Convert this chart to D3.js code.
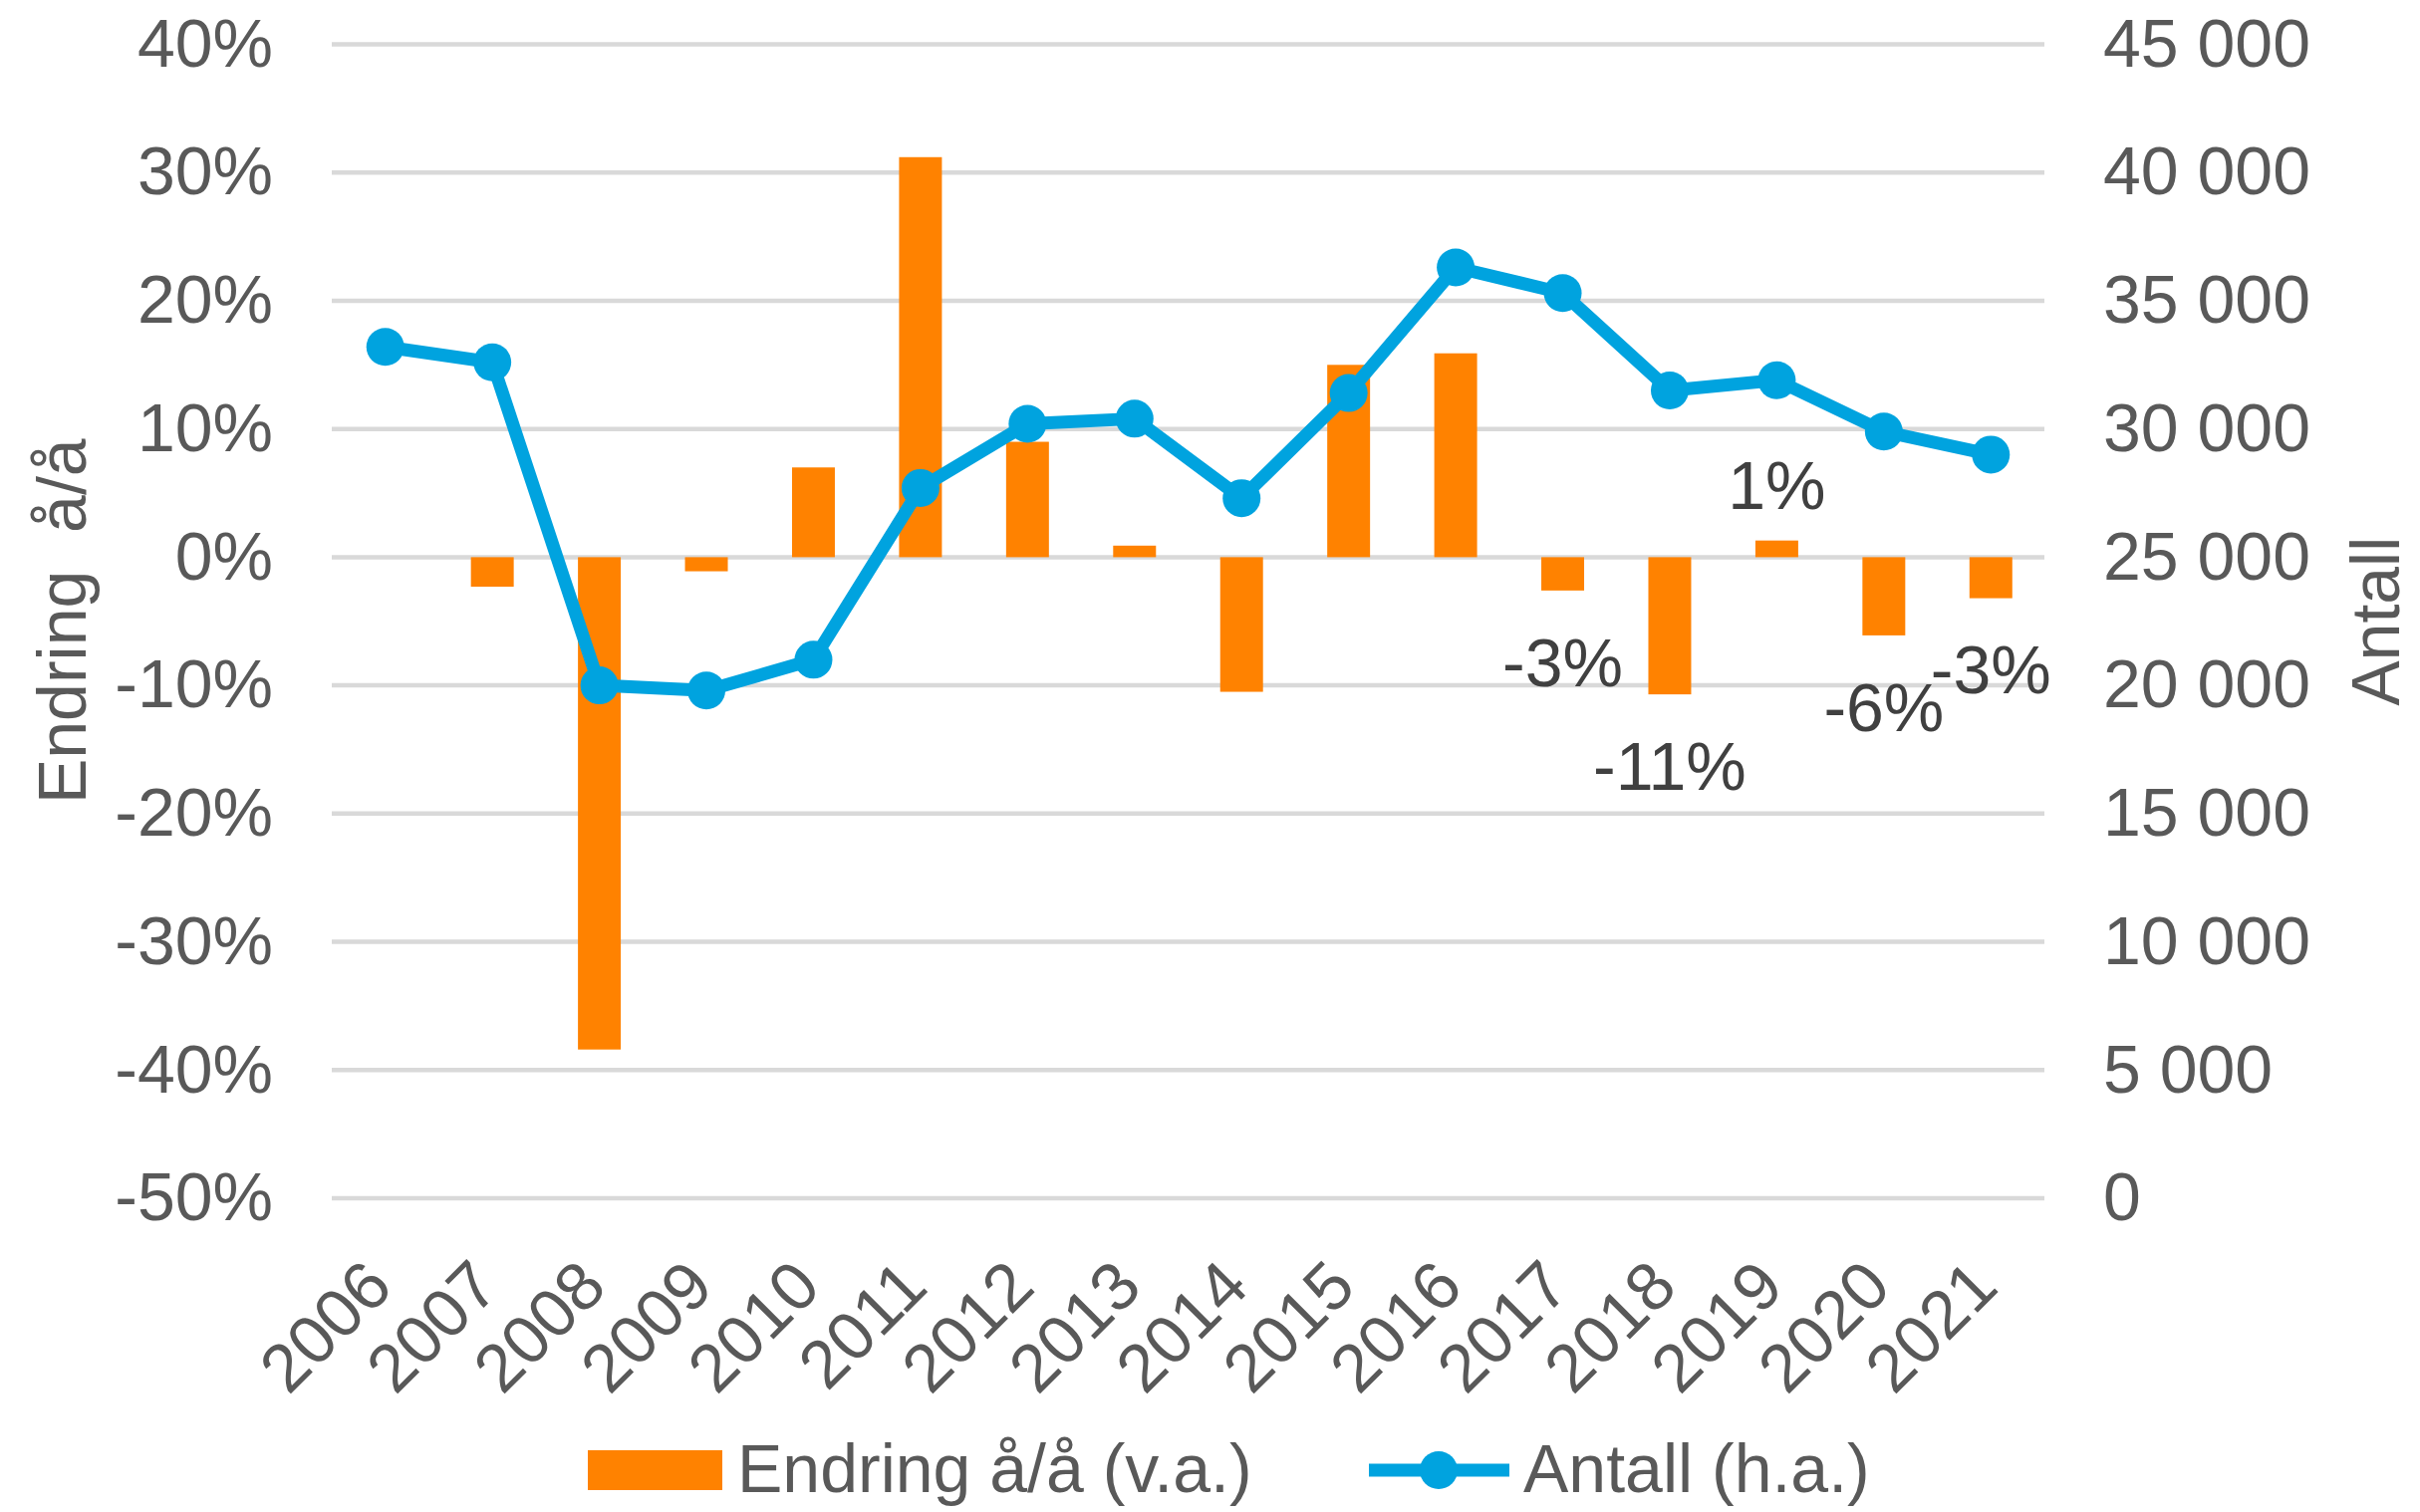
<!DOCTYPE html>
<html>
<head>
<meta charset="utf-8">
<script src="https://cdn.jsdelivr.net/npm/d3@7"></script>
<style>
  html, body { margin: 0; padding: 0; background: #fff; }
  svg { display: block; font-family: "Liberation Sans", Arial, sans-serif; }
</style>
</head>
<body>
<div id="chart"></div>
<script>
/* ── Data ─────────────────────────────────────────────────────────── */

const years = ['2006', '2007', '2008', '2009', '2010', '2011', '2012', '2013',
  '2014', '2015', '2016', '2017', '2018', '2019', '2020', '2021'];

// Endring å/å (v.a.), share
const endring = [null, -0.023, -0.384, -0.011, 0.070, 0.312, 0.090, 0.009,
  -0.105, 0.150, 0.159, -0.026, -0.107, 0.013, -0.061, -0.032];

// Antall (h.a.)
const antall = [33200, 32600, 20000, 19800, 21000, 27700, 30200, 30400,
  27300, 31400, 36300, 35300, 31500, 31900, 29900, 29000];

const labelYears = ['2017', '2018', '2019', '2020', '2021'];

const leftTicks = [-0.5, -0.4, -0.3, -0.2, -0.1, 0, 0.1, 0.2, 0.3, 0.4];
const rightTicks = [0, 5000, 10000, 15000, 20000, 25000, 30000, 35000, 40000, 45000];

/* ── Setup ────────────────────────────────────────────────────────── */

const W = 2429, H = 1518;
const plot = { left: 333, right: 2052, top: 44.5, bottom: 1203 };

const COLORS = {
  bar: '#FF8200',
  line: '#00A3DF',
  grid: '#D9D9D9',
  axisText: '#595959',
  label: '#404040'
};

const locale = d3.formatLocale({
  decimal: ',', thousands: '\u00a0', grouping: [3], currency: ['', ' kr'], minus: '-'
});
const pct = locale.format('.0%');
const num = locale.format(',.0f');

const svg = d3.select('#chart').append('svg')
  .attr('width', W).attr('height', H)
  .attr('viewBox', '0 0 ' + W + ' ' + H);

const x = d3.scaleBand().domain(years).range([plot.left, plot.right]).padding(0);
const yL = d3.scaleLinear().domain([-0.5, 0.4]).range([plot.bottom, plot.top]);
const yR = d3.scaleLinear().domain([0, 45000]).range([plot.bottom, plot.top]);

const fontSize = 68;

/* ── Gridlines ────────────────────────────────────────────────────── */

svg.append('g').selectAll('line')
  .data(leftTicks)
  .join('line')
  .attr('x1', plot.left).attr('x2', plot.right)
  .attr('y1', d => yL(d)).attr('y2', d => yL(d))
  .attr('stroke', COLORS.grid).attr('stroke-width', 4.5);

/* ── Axes ─────────────────────────────────────────────────────────── */

const gLeft = svg.append('g')
  .attr('transform', 'translate(' + (plot.left - 59) + ',0)')
  .call(d3.axisLeft(yL).tickValues(leftTicks).tickFormat(pct).tickSize(0).tickPadding(0));

const gRight = svg.append('g')
  .attr('transform', 'translate(' + (plot.right + 59) + ',0)')
  .call(d3.axisRight(yR).tickValues(rightTicks).tickFormat(num).tickSize(0).tickPadding(0));

const gBottom = svg.append('g')
  .attr('transform', 'translate(0,' + (plot.bottom + 58) + ')')
  .call(d3.axisBottom(x).tickSize(0).tickPadding(0));

[gLeft, gRight, gBottom].forEach(g => {
  g.select('.domain').remove();
  g.selectAll('text')
    .attr('fill', COLORS.axisText)
    .style('font-size', fontSize + 'px')
    .style('font-family', '"Liberation Sans", Arial, sans-serif');
});

// rotated year labels, top-right end sits near the category centre
gBottom.selectAll('text')
  .attr('text-anchor', 'end')
  .attr('dy', '0.7em')
  .attr('transform', 'translate(-24,0) rotate(-45)');

/* ── Bars ─────────────────────────────────────────────────────────── */

const barW = x.bandwidth() * 0.4;
const barData = years.map((yr, i) => ({ year: yr, v: endring[i] })).filter(d => d.v !== null);

svg.append('g').selectAll('rect')
  .data(barData)
  .join('rect')
  .attr('x', d => x(d.year) + (x.bandwidth() - barW) / 2)
  .attr('width', barW)
  .attr('y', d => Math.min(yL(d.v), yL(0)))
  .attr('height', d => Math.abs(yL(d.v) - yL(0)))
  .attr('fill', COLORS.bar);

/* ── Line ─────────────────────────────────────────────────────────── */

const lineData = years.map((yr, i) => ({ year: yr, v: antall[i] }));
const cx = d => x(d.year) + x.bandwidth() / 2;

svg.append('path')
  .datum(lineData)
  .attr('fill', 'none')
  .attr('stroke', COLORS.line)
  .attr('stroke-width', 13)
  .attr('stroke-linejoin', 'round')
  .attr('d', d3.line().x(cx).y(d => yR(d.v)));

svg.append('g').selectAll('circle')
  .data(lineData)
  .join('circle')
  .attr('cx', cx)
  .attr('cy', d => yR(d.v))
  .attr('r', 19)
  .attr('fill', COLORS.line);

/* ── Data labels ──────────────────────────────────────────────────── */

svg.append('g').selectAll('text')
  .data(barData.filter(d => labelYears.includes(d.year)))
  .join('text')
  .attr('x', d => x(d.year) + x.bandwidth() / 2)
  .attr('y', d => d.v < 0 ? yL(d.v) + 72 : yL(d.v) - 55)
  .attr('dy', '0.35em')
  .attr('text-anchor', 'middle')
  .attr('fill', COLORS.label)
  .style('font-size', fontSize + 'px')
  .text(d => pct(d.v));

/* ── Axis titles ──────────────────────────────────────────────────── */

const midY = (plot.top + plot.bottom) / 2;

svg.append('text')
  .attr('transform', 'translate(62,' + midY + ') rotate(-90)')
  .attr('text-anchor', 'middle')
  .attr('dy', '0.35em')
  .attr('fill', COLORS.axisText)
  .style('font-size', fontSize + 'px')
  .style('white-space', 'pre')
  .text('Endring  å/å');

svg.append('text')
  .attr('transform', 'translate(2384,' + midY + ') rotate(-90)')
  .attr('text-anchor', 'middle')
  .attr('dy', '0.35em')
  .attr('fill', COLORS.axisText)
  .style('font-size', fontSize + 'px')
  .text('Antall');

/* ── Legend ───────────────────────────────────────────────────────── */

const legY = 1474;
const leg = svg.append('g');

leg.append('rect')
  .attr('x', 590).attr('y', legY - 18)
  .attr('width', 135).attr('height', 40)
  .attr('fill', COLORS.bar);

leg.append('text')
  .attr('x', 740).attr('y', legY).attr('dy', '0.35em')
  .attr('fill', COLORS.axisText)
  .style('font-size', fontSize + 'px')
  .text('Endring å/å (v.a.)');

leg.append('line')
  .attr('x1', 1374).attr('x2', 1515)
  .attr('y1', legY + 2).attr('y2', legY + 2)
  .attr('stroke', COLORS.line).attr('stroke-width', 13);

leg.append('circle')
  .attr('cx', 1444).attr('cy', legY + 2).attr('r', 19)
  .attr('fill', COLORS.line);

leg.append('text')
  .attr('x', 1529).attr('y', legY).attr('dy', '0.35em')
  .attr('fill', COLORS.axisText)
  .style('font-size', fontSize + 'px')
  .text('Antall (h.a.)');
</script>
</body>
</html>
